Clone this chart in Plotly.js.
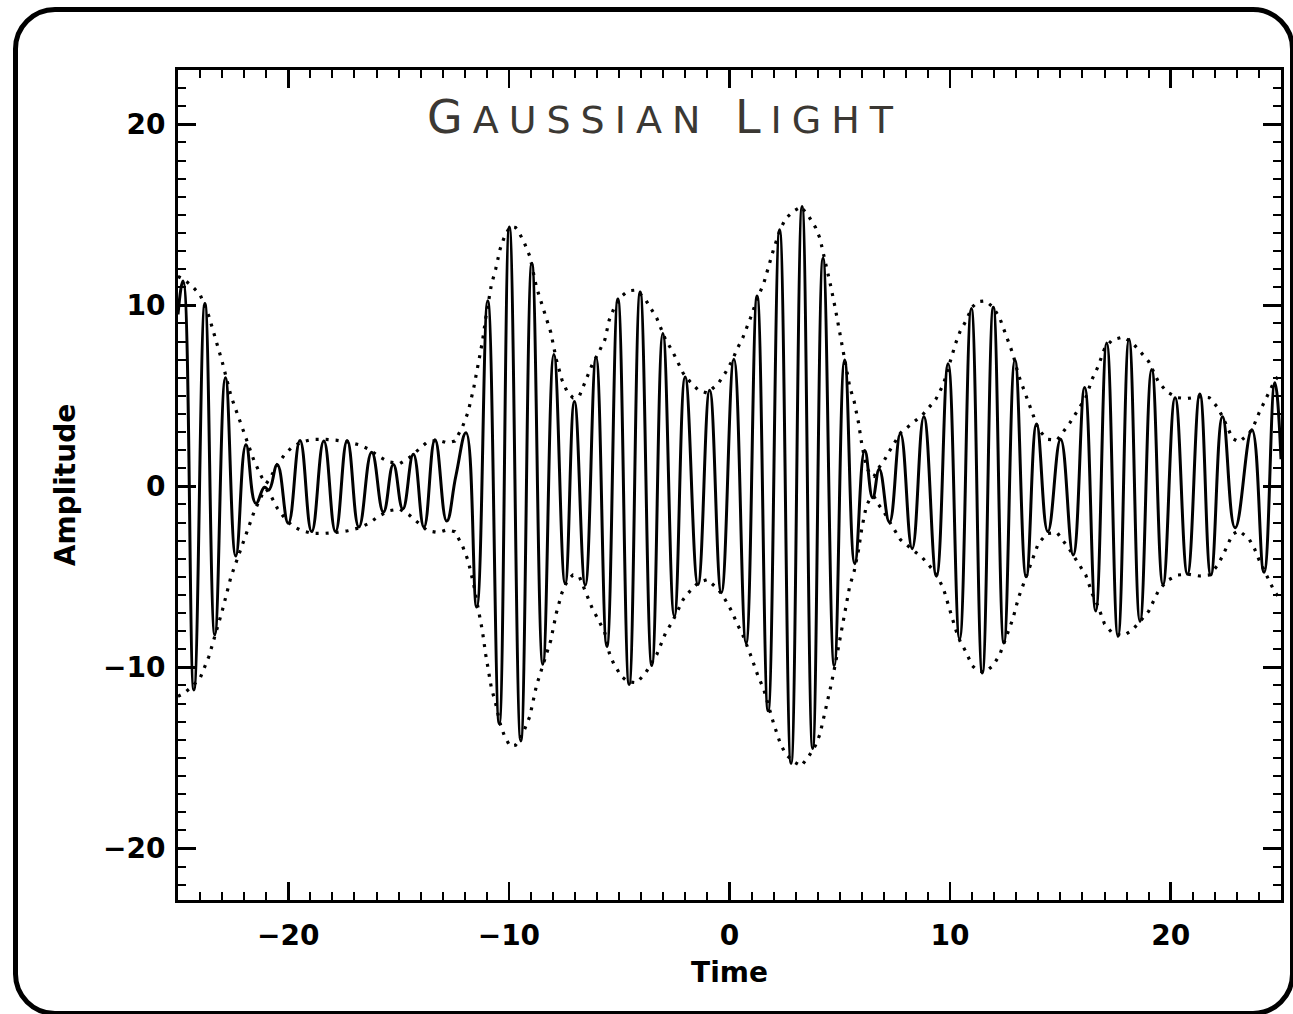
<!DOCTYPE html>
<html>
<head>
<meta charset="utf-8">
<script src="https://cdn.plot.ly/plotly-3.0.1.min.js"></script>
<style>
html,body{margin:0;padding:0;background:#fff;overflow:hidden;}
#frame{position:absolute;left:13px;top:7px;width:1282px;height:1009px;border:5px solid #000;border-radius:42px;box-sizing:border-box;}
#chart{position:absolute;left:0;top:0;width:1293px;height:1014px;}
.annotation-text{letter-spacing:10px;}
</style>
</head>
<body>
<div id="frame"></div>
<div id="chart"></div>
<script>
// Signal extrema (time, amplitude)
const sigT = [-25.0,-24.77,-24.28,-23.78,-23.33,-22.85,-22.38,-21.92,-21.47,-21.08,-20.88,-20.5,-20.0,-19.47,-18.94,-18.39,-17.86,-17.33,-16.80,-16.22,-15.69,-15.24,-14.81,-14.33,-13.85,-13.35,-12.82,-12.4,-11.94,-11.46,-10.96,-10.44,-9.98,-9.46,-8.96,-8.46,-7.96,-7.45,-7.03,-6.54,-6.05,-5.56,-5.06,-4.55,-4.05,-3.52,-3.02,-2.50,-2.01,-1.43,-0.90,-0.37,0.20,0.75,1.25,1.75,2.27,2.79,3.29,3.77,4.24,4.75,5.22,5.68,6.13,6.49,6.79,7.25,7.75,8.28,8.81,9.38,9.91,10.43,10.96,11.46,11.96,12.44,12.94,13.45,13.92,14.43,15.01,15.58,16.10,16.60,17.10,17.61,18.11,18.61,19.14,19.65,20.20,20.76,21.32,21.82,22.35,22.92,23.68,24.23,24.72,25.0];
const sigV = [9.5,11.35,-11.25,10.1,-8.2,6.0,-3.85,2.3,-0.94,-0.05,-0.2,1.19,-2.04,2.54,-2.5,2.5,-2.5,2.54,-2.25,1.88,-1.42,1.21,-1.25,1.77,-2.25,2.58,-1.92,0.6,2.96,-6.67,10.25,-13.1,14.33,-14.06,12.33,-9.83,7.29,-5.38,4.69,-5.46,7.13,-8.85,10.35,-10.94,10.73,-9.9,8.44,-7.19,6.04,-5.42,5.31,-5.88,7.02,-8.65,10.52,-12.4,14.17,-15.31,15.46,-14.48,12.6,-9.9,6.98,-4.27,1.98,-0.63,0.94,-1.98,2.92,-3.44,3.85,-4.96,6.77,-8.44,9.83,-10.31,9.9,-8.65,6.98,-5.0,3.44,-2.5,2.6,-3.79,5.46,-6.88,7.92,-8.29,8.13,-7.46,6.46,-5.42,4.9,-4.85,5.1,-4.9,3.85,-2.29,3.13,-4.75,5.73,1.5];

// Envelope (dotted)
const envT = [-25.0,-24.75,-24.4,-24.0,-23.6,-23.3,-23.0,-22.6,-22.2,-21.9,-21.55,-21.2,-21.0,-20.8,-20.5,-20.2,-19.85,-19.4,-18.9,-18.4,-17.85,-17.3,-16.8,-16.35,-15.9,-15.45,-14.95,-14.5,-14.1,-13.7,-13.2,-12.8,-12.45,-12.1,-11.85,-11.6,-11.4,-11.2,-11.05,-10.8,-10.6,-10.4,-10.2,-9.95,-9.7,-9.55,-9.3,-9.05,-8.75,-8.4,-8.1,-7.85,-7.6,-7.35,-7.1,-6.8,-6.45,-6.2,-5.95,-5.65,-5.45,-5.25,-4.9,-4.6,-4.2,-3.8,-3.3,-2.9,-2.6,-2.35,-2.1,-1.8,-1.4,-1.0,-0.5,-0.2,0.1,0.35,0.6,0.95,1.3,1.55,1.8,2.0,2.3,2.55,2.9,3.25,3.6,3.9,4.1,4.35,4.6,4.8,5.0,5.2,5.45,5.65,5.85,6.0,6.2,6.4,6.55,6.75,7.0,7.25,7.75,8.25,8.75,9.0,9.35,9.7,10.1,10.25,10.45,10.7,11.0,11.25,11.6,11.95,12.25,12.45,12.65,12.85,13.1,13.3,13.5,13.65,14.0,14.4,14.85,15.45,15.8,16.15,16.45,16.7,17.0,17.35,17.85,18.25,18.65,19.0,19.45,19.85,20.3,20.75,21.3,21.75,22.1,22.35,22.8,23.1,23.55,23.8,24.0,24.25,24.45,24.7,25.0];
const envUpper = [11.6,11.45,11.1,10.6,9.4,8.2,6.9,5.0,3.6,2.6,1.4,0.5,0.15,0.5,1.2,1.7,2.15,2.45,2.6,2.6,2.55,2.45,2.3,2.05,1.65,1.35,1.25,1.6,2.05,2.45,2.55,2.4,2.5,3.3,4.1,5.4,6.7,8.0,9.3,11.1,12.0,13.1,13.8,14.35,14.3,14.05,13.45,12.7,11.0,9.7,8.5,7.0,5.9,5.2,4.9,5.0,6.0,6.8,7.35,8.1,9.2,9.8,10.5,10.8,10.85,10.3,9.3,8.1,7.5,6.9,6.25,5.8,5.3,5.15,5.7,6.25,6.9,7.6,8.2,9.3,10.5,11.2,12.3,13.1,14.2,14.8,15.2,15.45,14.9,14.3,13.7,12.4,11.0,9.8,8.5,7.3,5.5,4.7,3.5,2.3,1.1,0.6,0.55,1.0,1.4,1.95,2.95,3.45,3.95,4.3,4.8,5.65,7.3,7.9,8.55,9.1,9.9,10.2,10.25,9.9,9.3,8.65,8.0,7.3,6.15,5.5,4.9,4.3,3.15,2.6,2.55,3.55,4.2,4.9,5.95,6.6,7.6,8.1,8.25,7.95,7.4,6.9,5.75,5.2,4.9,4.85,4.95,4.9,4.4,3.85,2.65,2.45,2.9,3.45,4.05,4.7,5.2,5.8,6.3];
const envLower = [-11.6,-11.45,-11.1,-10.6,-9.4,-8.2,-6.9,-5.0,-3.6,-2.6,-1.4,-0.5,-0.15,-0.5,-1.2,-1.7,-2.15,-2.45,-2.6,-2.6,-2.55,-2.45,-2.3,-2.05,-1.65,-1.35,-1.25,-1.6,-2.05,-2.45,-2.55,-2.4,-2.5,-3.3,-4.1,-5.4,-6.7,-8.0,-9.3,-11.1,-12.0,-13.1,-13.8,-14.35,-14.3,-14.05,-13.45,-12.7,-11.0,-9.7,-8.5,-7.0,-5.9,-5.2,-4.9,-5.0,-6.0,-6.8,-7.35,-8.1,-9.2,-9.8,-10.5,-10.8,-10.85,-10.3,-9.3,-8.1,-7.5,-6.9,-6.25,-5.8,-5.3,-5.15,-5.7,-6.25,-6.9,-7.6,-8.2,-9.3,-10.5,-11.2,-12.3,-13.1,-14.2,-14.8,-15.2,-15.45,-14.9,-14.3,-13.7,-12.4,-11.0,-9.8,-8.5,-7.3,-5.5,-4.7,-3.5,-2.3,-1.1,-0.6,-0.55,-1.0,-1.4,-1.95,-2.95,-3.45,-3.95,-4.3,-4.8,-5.65,-7.3,-7.9,-8.55,-9.1,-9.9,-10.2,-10.25,-9.9,-9.3,-8.65,-8.0,-7.3,-6.15,-5.5,-4.9,-4.3,-3.15,-2.6,-2.55,-3.55,-4.2,-4.9,-5.95,-6.6,-7.6,-8.1,-8.25,-7.95,-7.4,-6.9,-5.75,-5.2,-4.9,-4.85,-4.95,-4.9,-4.4,-3.85,-2.65,-2.45,-2.9,-3.45,-4.05,-4.7,-5.2,-5.8,-6.3];

const xTickVals = [-20,-10,0,10,20];
const xTickText = ['\u221220','\u221210','0','10','20'];
const yTickVals = [-20,-10,0,10,20];
const yTickText = ['\u221220','\u221210','0','10','20'];

// Title in small capitals: large initials, smaller remaining letters
const titleText = 'G<span style="font-size:38px">AUSSIAN</span> L<span style="font-size:38px">IGHT</span>';
const xTitle = 'Time';
const yTitle = 'Amplitude';

const labelFont = {family:'DejaVu Sans', size:28, weight:'bold', color:'#000'};

const envLine = {color:'#000', width:3.2, dash:'3px,7px'};
const traces = [
  {x: envT, y: envUpper, type:'scatter', mode:'lines', line: envLine, hoverinfo:'skip', showlegend:false},
  {x: envT, y: envLower, type:'scatter', mode:'lines', line: envLine, hoverinfo:'skip', showlegend:false},
  {x: sigT, y: sigV, type:'scatter', mode:'lines', line:{color:'#000', width:3, shape:'spline', smoothing:1.3}, showlegend:false}
];

const axisCommon = {
  showgrid:false, zeroline:false, showline:true, linecolor:'#000', linewidth:3,
  mirror:'ticks', ticks:'inside', ticklen:18, tickwidth:2.5, tickcolor:'#000',
  tickmode:'array',
  minor:{dtick:1, tick0:0, ticks:'inside', ticklen:8, tickwidth:2, tickcolor:'#000', showgrid:false},
  tickfont: labelFont
};

const layout = {
  width:1293, height:1014,
  margin:{l:178, r:12, t:70, b:114},
  paper_bgcolor:'rgba(0,0,0,0)', plot_bgcolor:'rgba(0,0,0,0)',
  showlegend:false,
  xaxis: Object.assign({}, axisCommon, {
    range:[-25,25], tickvals:xTickVals, ticktext:xTickText, ticklabelstandoff:8,
    title:{text:xTitle, font:labelFont, standoff:12}
  }),
  yaxis: Object.assign({}, axisCommon, {
    range:[-22.85,23.0], tickvals:yTickVals, ticktext:yTickText, ticklabelstandoff:4,
    title:{text:yTitle, font:labelFont, standoff:20}
  }),
  annotations:[{
    text:titleText, xref:'paper', yref:'paper', x:0.4415, y:0.943,
    xanchor:'center', yanchor:'middle', showarrow:false,
    font:{family:'DejaVu Sans', size:46, color:'#3b3833'}
  }]
};

Plotly.newPlot('chart', traces, layout, {staticPlot:true, displayModeBar:false});
</script>
</body>
</html>
